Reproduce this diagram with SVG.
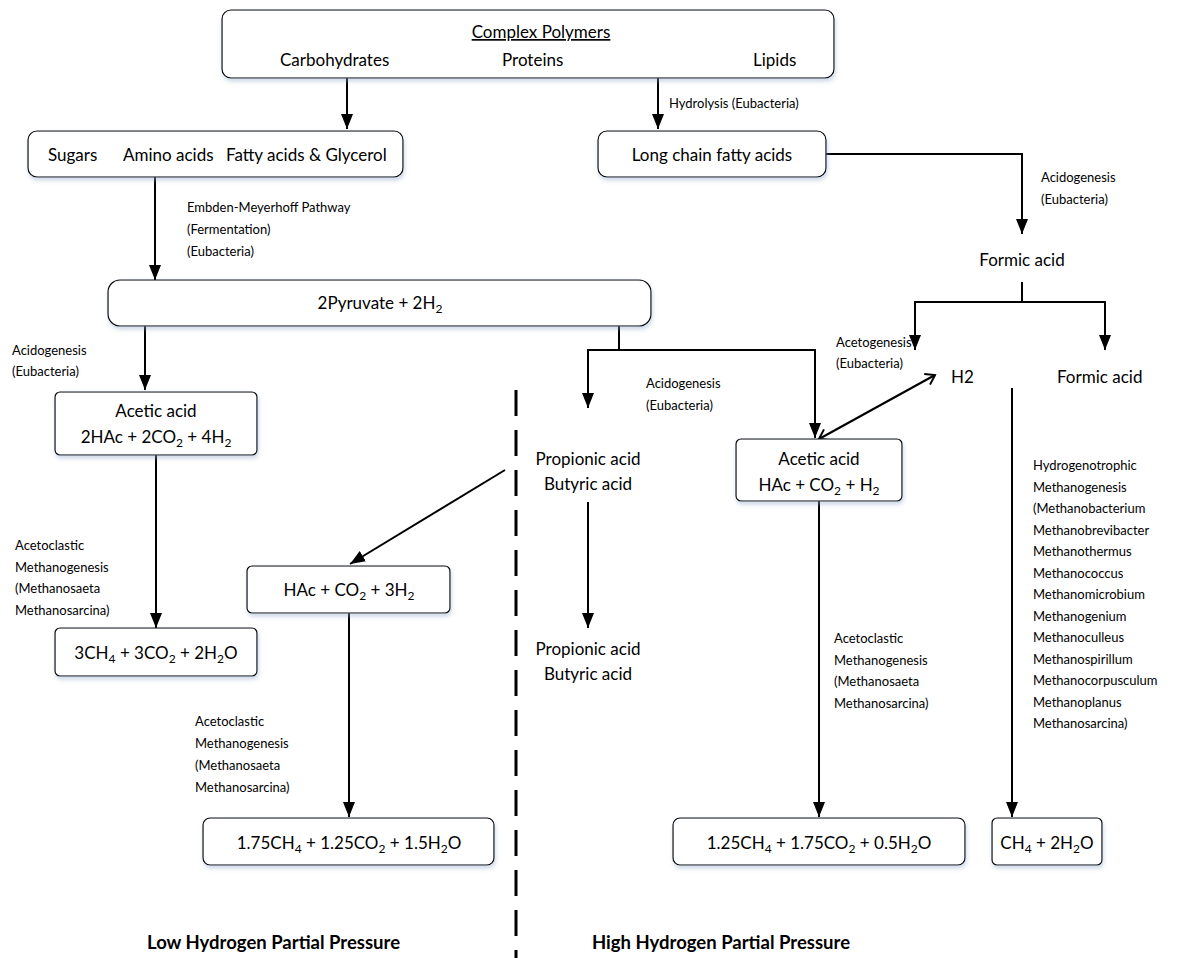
<svg xmlns="http://www.w3.org/2000/svg" width="1188" height="958" viewBox="0 0 1188 958">
<style>
text{font-family:Lato,"Open Sans","Liberation Sans",sans-serif;fill:#000}
.n{font-size:17px}
.s{font-size:13px}
.b{font-size:18.5px;font-weight:bold}
.box{fill:#fff;stroke:#000;stroke-width:1.2;filter:url(#sh)}
.c{stroke:#000;stroke-width:2;fill:none}
.a{marker-end:url(#ah)}
</style>
<defs>
<filter id="sh" x="-5%" y="-10%" width="110%" height="130%">
<feDropShadow dx="1" dy="3" stdDeviation="2" flood-color="#8fa8cc" flood-opacity="0.45"/>
</filter>
<marker id="ah" markerUnits="userSpaceOnUse" markerWidth="15" markerHeight="12" viewBox="0 0 15 12" refX="15" refY="6" orient="auto">
<path d="M0,0 L15,6 L0,12 Z" fill="#000"/>
</marker>
<marker id="oa" markerUnits="userSpaceOnUse" markerWidth="20" markerHeight="20" viewBox="-10 -10 20 20" refX="0" refY="0" orient="auto-start-reverse">
<path d="M-9,-6 L0,0 L-9,6" fill="none" stroke="#000" stroke-width="2"/>
</marker>
</defs>
<rect width="1188" height="958" fill="#fff"/>

<g id="connectors">
<line class="c a" x1="347" y1="78" x2="347" y2="129"/>
<line class="c a" x1="658" y1="78" x2="658" y2="129"/>
<polyline class="c a" points="826,154 1022,154 1022,234"/>
<line class="c a" x1="155" y1="177" x2="155" y2="280"/>
<line class="c" x1="1022" y1="282" x2="1022" y2="302"/>
<polyline class="c a" points="915,302 1105,302 1105,350"/>
<line class="c a" x1="915" y1="301" x2="915" y2="350"/>
<line class="c a" x1="145" y1="326" x2="145" y2="390"/>
<line class="c" x1="619" y1="326" x2="619" y2="350"/>
<polyline class="c a" points="588,350 815,350 815,438"/>
<line class="c a" x1="588" y1="349" x2="588" y2="408"/>
<line class="c a" x1="156" y1="455" x2="156" y2="628"/>
<line class="c a" x1="505" y1="470" x2="350" y2="564"/>
<line class="c a" x1="349" y1="613" x2="349" y2="817"/>
<line class="c a" x1="588" y1="502" x2="588" y2="628"/>
<line class="c" x1="819" y1="439" x2="935" y2="375" marker-start="url(#oa)" marker-end="url(#oa)"/>
<line class="c a" x1="819" y1="501" x2="819" y2="817"/>
<line class="c a" x1="1012" y1="388" x2="1012" y2="817"/>
<line x1="516" y1="390" x2="516" y2="958" stroke="#000" stroke-width="3" stroke-dasharray="26 14"/>
</g>

<g id="n-polymers">
<rect class="box" x="222" y="10" width="612" height="68" rx="9"/>
<text class="n" x="541" y="38" text-anchor="middle" text-decoration="underline">Complex Polymers</text>
<text class="n" x="280" y="66">Carbohydrates</text>
<text class="n" x="502" y="66">Proteins</text>
<text class="n" x="753" y="66">Lipids</text>
</g>
<g id="l-hydrolysis"><text class="s" x="669" y="108">Hydrolysis (Eubacteria)</text></g>

<g id="n-sugars">
<rect class="box" x="28" y="131" width="375" height="46" rx="9"/>
<text class="n" x="48" y="161">Sugars</text>
<text class="n" x="123" y="161">Amino acids</text>
<text class="n" x="226" y="161">Fatty acids &amp; Glycerol</text>
</g>

<g id="n-lcfa">
<rect class="box" x="598" y="131" width="228" height="46" rx="9"/>
<text class="n" x="712" y="161" text-anchor="middle">Long chain fatty acids</text>
</g>
<g id="l-acido1"><text class="s" x="1041" y="182">Acidogenesis</text><text class="s" x="1041" y="204">(Eubacteria)</text></g>

<g id="l-embden">
<text class="s" x="187" y="212">Embden-Meyerhoff Pathway</text>
<text class="s" x="187" y="234">(Fermentation)</text>
<text class="s" x="187" y="256">(Eubacteria)</text>
</g>

<g id="n-formic"><text class="n" x="1022" y="266" text-anchor="middle" font-size="18">Formic acid</text></g>

<g id="n-pyruvate">
<rect class="box" x="108" y="280" width="543" height="46" rx="12"/>
<text class="n" x="380" y="309" text-anchor="middle">2Pyruvate + 2H<tspan font-size="12" dy="4">2</tspan></text>
</g>

<g id="l-acido2"><text class="s" x="12" y="355">Acidogenesis</text><text class="s" x="12" y="376">(Eubacteria)</text></g>
<g id="l-acetogen"><text class="s" x="836" y="347">Acetogenesis</text><text class="s" x="836" y="368">(Eubacteria)</text></g>
<g id="n-h2"><text class="n" x="951" y="383">H2</text></g>
<g id="n-formic2"><text class="n" x="1057" y="383" font-size="18">Formic acid</text></g>
<g id="l-acido3"><text class="s" x="646" y="388">Acidogenesis</text><text class="s" x="646" y="410">(Eubacteria)</text></g>

<g id="n-acetic-left">
<rect class="box" x="55" y="392" width="202" height="63" rx="5"/>
<text class="n" x="156" y="417" text-anchor="middle">Acetic acid</text>
<text class="n" x="156" y="443" text-anchor="middle">2HAc + 2CO<tspan font-size="12" dy="4">2</tspan><tspan dy="-4"> + 4H</tspan><tspan font-size="12" dy="4">2</tspan></text>
</g>

<g id="n-propionic1">
<text class="n" x="588" y="465" text-anchor="middle">Propionic acid</text>
<text class="n" x="588" y="490" text-anchor="middle">Butyric acid</text>
</g>

<g id="n-acetic-right">
<rect class="box" x="736" y="439" width="166" height="62" rx="5"/>
<text class="n" x="819" y="465" text-anchor="middle">Acetic acid</text>
<text class="n" x="819" y="491" text-anchor="middle">HAc + CO<tspan font-size="12" dy="4">2</tspan><tspan dy="-4"> + H</tspan><tspan font-size="12" dy="4">2</tspan></text>
</g>

<g id="l-hydrogenotrophic">
<text class="s" x="1033" y="470">Hydrogenotrophic</text>
<text class="s" x="1033" y="491.5">Methanogenesis</text>
<text class="s" x="1033" y="513">(Methanobacterium</text>
<text class="s" x="1033" y="534.5">Methanobrevibacter</text>
<text class="s" x="1033" y="556">Methanothermus</text>
<text class="s" x="1033" y="577.5">Methanococcus</text>
<text class="s" x="1033" y="599">Methanomicrobium</text>
<text class="s" x="1033" y="620.5">Methanogenium</text>
<text class="s" x="1033" y="642">Methanoculleus</text>
<text class="s" x="1033" y="663.5">Methanospirillum</text>
<text class="s" x="1033" y="685">Methanocorpusculum</text>
<text class="s" x="1033" y="706.5">Methanoplanus</text>
<text class="s" x="1033" y="728">Methanosarcina)</text>
</g>

<g id="l-aceto1">
<text class="s" x="15" y="550">Acetoclastic</text>
<text class="s" x="15" y="572">Methanogenesis</text>
<text class="s" x="15" y="593">(Methanosaeta</text>
<text class="s" x="15" y="615">Methanosarcina)</text>
</g>

<g id="n-hac3h2">
<rect class="box" x="247" y="566" width="203" height="47" rx="5"/>
<text class="n" x="349" y="596" text-anchor="middle">HAc + CO<tspan font-size="12" dy="4">2</tspan><tspan dy="-4"> + 3H</tspan><tspan font-size="12" dy="4">2</tspan></text>
</g>

<g id="n-3ch4">
<rect class="box" x="55" y="628" width="202" height="48" rx="5"/>
<text class="n" x="156" y="659" text-anchor="middle">3CH<tspan font-size="12" dy="4">4</tspan><tspan dy="-4"> + 3CO</tspan><tspan font-size="12" dy="4">2</tspan><tspan dy="-4"> + 2H</tspan><tspan font-size="12" dy="4">2</tspan><tspan dy="-4">O</tspan></text>
</g>

<g id="n-propionic2">
<text class="n" x="588" y="655" text-anchor="middle">Propionic acid</text>
<text class="n" x="588" y="680" text-anchor="middle">Butyric acid</text>
</g>

<g id="l-aceto3">
<text class="s" x="834" y="643">Acetoclastic</text>
<text class="s" x="834" y="665">Methanogenesis</text>
<text class="s" x="834" y="686">(Methanosaeta</text>
<text class="s" x="834" y="708">Methanosarcina)</text>
</g>

<g id="l-aceto2">
<text class="s" x="195" y="726">Acetoclastic</text>
<text class="s" x="195" y="748">Methanogenesis</text>
<text class="s" x="195" y="770">(Methanosaeta</text>
<text class="s" x="195" y="792">Methanosarcina)</text>
</g>

<g id="n-175">
<rect class="box" x="203" y="818" width="291" height="47" rx="7"/>
<text class="n" x="349" y="849" text-anchor="middle">1.75CH<tspan font-size="12" dy="4">4</tspan><tspan dy="-4"> + 1.25CO</tspan><tspan font-size="12" dy="4">2</tspan><tspan dy="-4"> + 1.5H</tspan><tspan font-size="12" dy="4">2</tspan><tspan dy="-4">O</tspan></text>
</g>

<g id="n-125">
<rect class="box" x="673" y="818" width="292" height="47" rx="7"/>
<text class="n" x="819" y="849" text-anchor="middle">1.25CH<tspan font-size="12" dy="4">4</tspan><tspan dy="-4"> + 1.75CO</tspan><tspan font-size="12" dy="4">2</tspan><tspan dy="-4"> + 0.5H</tspan><tspan font-size="12" dy="4">2</tspan><tspan dy="-4">O</tspan></text>
</g>

<g id="n-ch4">
<rect class="box" x="992" y="818" width="110" height="47" rx="5"/>
<text class="n" x="1047" y="849" text-anchor="middle">CH<tspan font-size="12" dy="4">4</tspan><tspan dy="-4"> + 2H</tspan><tspan font-size="12" dy="4">2</tspan><tspan dy="-4">O</tspan></text>
</g>

<g id="l-low"><text class="b" x="147" y="949">Low Hydrogen Partial Pressure</text></g>
<g id="l-high"><text class="b" x="592" y="949">High Hydrogen Partial Pressure</text></g>
</svg>
